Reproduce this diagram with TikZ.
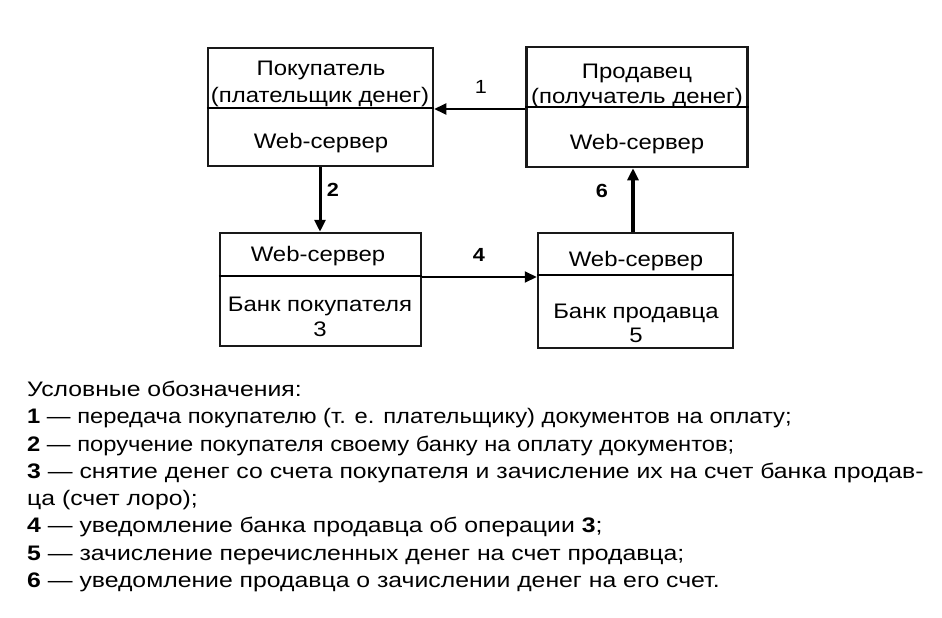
\documentclass[tikz,border=0pt]{standalone}
\usepackage{fontspec}
\setmainfont{Liberation Sans}
\newfontfamily\diagfont[FakeStretch=1.14]{Liberation Sans}
\newfontfamily\legfont[FakeStretch=1.18]{Liberation Sans}
\newfontfamily\legnarrowfont[FakeStretch=1.13]{Liberation Sans}
\usetikzlibrary{arrows.meta}
\begin{document}
\begin{tikzpicture}[x=1pt,y=-1pt,
  box/.style={draw=black!90,line width=2.5pt,inner sep=0pt},
  lbl/.style={font=\diagfont\fontsize{21}{24}\selectfont,anchor=base,inner sep=0pt},
  num/.style={font=\diagfont\bfseries\fontsize{19}{22}\selectfont,anchor=base,inner sep=0pt},
  leg/.style={font=\legfont\fontsize{21}{24}\selectfont,anchor=base west,inner sep=0pt},
  legn/.style={font=\legnarrowfont\fontsize{21}{24}\selectfont,anchor=base west,inner sep=0pt},
  arr/.style={-{Triangle[length=12pt,width=11pt]},line width=2pt}]
\useasboundingbox[fill=white] (0,0) rectangle (942,618);
% boxes
\node[box,minimum width=225pt,minimum height=118pt] (A) at (320.5,107) {};
\node[box,minimum width=221pt,minimum height=120pt] (B) at (637,107) {};
\node[box,minimum width=201pt,minimum height=113pt] (C) at (320.5,289.5) {};
\node[box,minimum width=195pt,minimum height=115pt] (D) at (635.5,290.5) {};
% dividers
\draw[line width=2pt] (A.west |- 0,108) -- (A.east |- 0,108);
\draw[line width=2pt] (B.west |- 0,107) -- (B.east |- 0,107);
\draw[line width=2.5pt] (C.west |- 0,276) -- (C.east |- 0,276);
\draw[line width=2.5pt] (D.west |- 0,275) -- (D.east |- 0,275);
% texts
\node[lbl] (a1) at (321,75) {Покупатель};
\node[lbl] (a1b) at (320,102) {(плательщик денег)};
\node[lbl] (a2) at (321,148) {Web-сервер};
\node[lbl] (b1) at (637,78) {Продавец};
\node[lbl] (b1b) at (637,103) {(получатель денег)};
\node[lbl] (b2) at (637,149) {Web-сервер};
\node[lbl] (c1) at (318,261) {Web-сервер};
\node[lbl] (c2) at (320,311) {Банк покупателя};
\node[lbl] (c3) at (320,336) {3};
\node[lbl] (d1) at (636,266) {Web-сервер};
\node[lbl] (d2) at (636,318) {Банк продавца};
\node[lbl] (d3) at (636,342) {5};
% arrows
\draw[arr] (B.west |- 0,109) -- (A.east |- 0,109);
\draw[arr,line width=3pt] (A.south -| 320,0) -- (C.north -| 320,0);
\draw[arr] (C.east |- 0,277) -- (D.west |- 0,277);
\draw[arr,line width=4pt] (D.north -| 633,0) -- (B.south -| 633,0);
\node[num,font=\diagfont\fontsize{19}{22}\selectfont] (n1) at (481,93) {1};
\node[num] (n2) at (333,196) {2};
\node[num] (n4) at (479,261) {4};
\node[num] (n6) at (602,197) {6};
% legend
\node[leg] (l0) at (27,396) {Условные обозначения:};
\node[legn] (l1) at (27,423) {\textbf{1} — передача покупателю (т. е. плательщику) документов на оплату;};
\node[legn] (l2) at (27,451) {\textbf{2} — поручение покупателя своему банку на оплату документов;};
\node[leg] (l3) at (27,478) {\textbf{3} — снятие денег со счета покупателя и зачисление их на счет банка продав-};
\node[leg] (l4) at (27,505) {ца (счет лоро);};
\node[leg] (l5) at (27,532) {\textbf{4} — уведомление банка продавца об операции \textbf{3};};
\node[leg] (l6) at (27,560) {\textbf{5} — зачисление перечисленных денег на счет продавца;};
\node[leg] (l7) at (27,587) {\textbf{6} — уведомление продавца о зачислении денег на его счет.};
\end{tikzpicture}
\end{document}
